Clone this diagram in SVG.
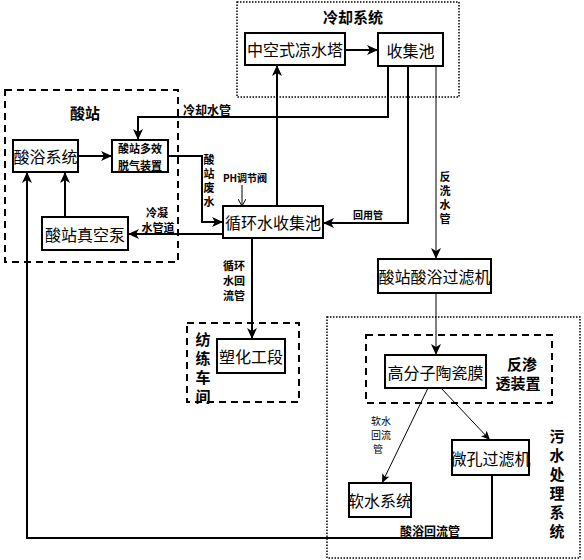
<svg xmlns="http://www.w3.org/2000/svg" width="584" height="560" viewBox="0 0 584 560">
<defs>
<marker id="ah" markerUnits="userSpaceOnUse" markerWidth="12" markerHeight="10" refX="11" refY="5" orient="auto">
<path d="M0,0 L11,5 L0,10 L3,5 Z" fill="#000"/>
</marker>
<marker id="ahs" markerUnits="userSpaceOnUse" markerWidth="10" markerHeight="8" refX="9" refY="4" orient="auto">
<path d="M0,0 L9,4 L0,8 L2,4 Z" fill="#000"/>
</marker>
<marker id="aho" markerUnits="userSpaceOnUse" markerWidth="8" markerHeight="8" refX="7" refY="4" orient="auto">
<path d="M0,0 L7,4 L0,8" fill="none" stroke="#000" stroke-width="1"/>
</marker>
</defs>
<style>
text{font-family:"Noto Sans CJK SC","Noto Sans",sans-serif;fill:#000;text-anchor:middle;dominant-baseline:central}
.box{fill:#fff;stroke:#000;stroke-width:2}
.dot{fill:none;stroke:#000;stroke-width:1.5;stroke-dasharray:1.5 1.5}
.dash{fill:none;stroke:#000;stroke-width:2;stroke-dasharray:7 5}
.ln{fill:none;stroke:#000;stroke-width:2}
.thin{fill:none;stroke:#000;stroke-width:1}
.bt{font-size:16px}
.lb{font-size:12px;font-weight:bold}
.vl{font-size:11px;font-weight:bold}
.vt{font-size:11px;font-weight:bold;writing-mode:vertical-rl;letter-spacing:3px}
.sm{font-size:10px}
.ti{font-size:15px;font-weight:bold}
</style>

<g id="cooling-system">
<rect class="dot" x="237" y="2" width="222" height="95"/>
<text class="ti" x="353" y="16">冷却系统</text>
</g>
<g id="acid-station">
<rect class="dash" x="5" y="90" width="173" height="172"/>
<text class="ti" x="85" y="112">酸站</text>
</g>
<g id="spinning-workshop">
<rect class="dash" x="187" y="323" width="112" height="79"/>
<text class="ti" x="203" y="338">纺</text>
<text class="ti" x="203" y="357">练</text>
<text class="ti" x="203" y="376">车</text>
<text class="ti" x="203" y="395">间</text>
</g>
<g id="sewage-system">
<rect class="dot" x="327" y="317" width="253" height="241"/>
<text class="ti" x="557" y="435">污</text>
<text class="ti" x="557" y="454">水</text>
<text class="ti" x="557" y="473">处</text>
<text class="ti" x="557" y="492">理</text>
<text class="ti" x="557" y="511">系</text>
<text class="ti" x="557" y="530">统</text>
</g>
<g id="ro-device">
<rect class="dash" x="366" y="335" width="186" height="68"/>
<text class="ti" x="522" y="363">反渗</text>
<text class="ti" x="518" y="382">透装置</text>
</g>

<g id="connectors">
<line class="ln" x1="345" y1="50" x2="378" y2="50" marker-end="url(#ah)"/>
<line class="ln" x1="277" y1="206" x2="277" y2="65" marker-end="url(#ah)"/>
<polyline class="ln" points="388,66 388,117 138,117 138,140" marker-end="url(#ah)"/>
<polyline class="ln" points="408,66 408,223 323,223" marker-end="url(#ah)"/>
<line class="thin" x1="436" y1="66" x2="436" y2="259" marker-end="url(#ah)"/>
<line class="ln" x1="78" y1="156" x2="112" y2="156" marker-end="url(#ah)"/>
<polyline class="ln" points="168,156 202,156 202,222 223,222" marker-end="url(#ah)"/>
<line class="ln" x1="223" y1="234" x2="128" y2="234" marker-end="url(#ah)"/>
<line class="ln" x1="65" y1="217" x2="65" y2="172" marker-end="url(#ah)"/>
<line class="thin" x1="242" y1="185" x2="242" y2="206" marker-end="url(#aho)"/>
<line class="ln" x1="252" y1="238" x2="252" y2="339" marker-end="url(#ah)"/>
<line class="thin" x1="436" y1="293" x2="436" y2="355" marker-end="url(#ah)"/>
<line class="thin" x1="428" y1="388" x2="382" y2="483" marker-end="url(#ahs)"/>
<line class="thin" x1="441" y1="388" x2="490" y2="440" marker-end="url(#ahs)"/>
<polyline class="ln" points="492,475 492,538 27,538 27,172" marker-end="url(#ah)"/>
<text class="lb" x="207" y="109">冷却水管</text>
<text class="vt" x="209" y="182">酸站废水</text>
<text class="sm" x="245" y="177" style="font-weight:bold">PH调节阀</text>
<text class="sm" x="368" y="214" style="font-weight:bold">回用管</text>
<text class="vt" x="445" y="199">反洗水管</text>
<text class="vl" x="157" y="212">冷凝</text>
<text class="vl" x="158" y="227">水管道</text>
<text class="vl" x="234" y="265">循环</text>
<text class="vl" x="234" y="280">水回</text>
<text class="vl" x="234" y="295">流管</text>
<text class="sm" x="381" y="420">软水</text>
<text class="sm" x="381" y="434">回流</text>
<text class="sm" x="378" y="448">管</text>
<text class="lb" x="430" y="530">酸浴回流管</text>
</g>

<g id="cooling-tower"><rect class="box" x="245" y="33" width="100" height="32"/><text class="bt" x="295" y="49">中空式凉水塔</text></g>
<g id="collection-pool"><rect class="box" x="378" y="33" width="65" height="33"/><text class="bt" x="410.5" y="49.5">收集池</text></g>
<g id="acid-bath-system"><rect class="box" x="13" y="140" width="65" height="32"/><text class="bt" x="45.5" y="156">酸浴系统</text></g>
<g id="degassing-device"><rect class="box" x="112" y="140" width="56" height="32"/><text class="vl" x="140" y="148">酸站多效</text><text class="vl" x="140" y="164.5">脱气装置</text></g>
<g id="vacuum-pump"><rect class="box" x="42" y="217" width="86" height="33"/><text class="bt" x="85" y="233.5">酸站真空泵</text></g>
<g id="circulating-pool"><rect class="box" x="223" y="206" width="100" height="32"/><text class="bt" x="273" y="222">循环水收集池</text></g>
<g id="plasticizing"><rect class="box" x="217" y="339" width="68" height="34"/><text class="bt" x="251" y="356">塑化工段</text></g>
<g id="acid-bath-filter"><rect class="box" x="378" y="259" width="113" height="34"/><text class="bt" x="434.5" y="276">酸站酸浴过滤机</text></g>
<g id="ceramic-membrane"><rect class="box" x="385" y="355" width="101" height="33"/><text class="bt" x="435.5" y="371.5">高分子陶瓷膜</text></g>
<g id="microporous-filter"><rect class="box" x="452" y="440" width="77" height="35"/><text class="bt" x="490.5" y="457.5">微孔过滤机</text></g>
<g id="soft-water-system"><rect class="box" x="349" y="483" width="62" height="34"/><text class="bt" x="380" y="500">软水系统</text></g>
</svg>
